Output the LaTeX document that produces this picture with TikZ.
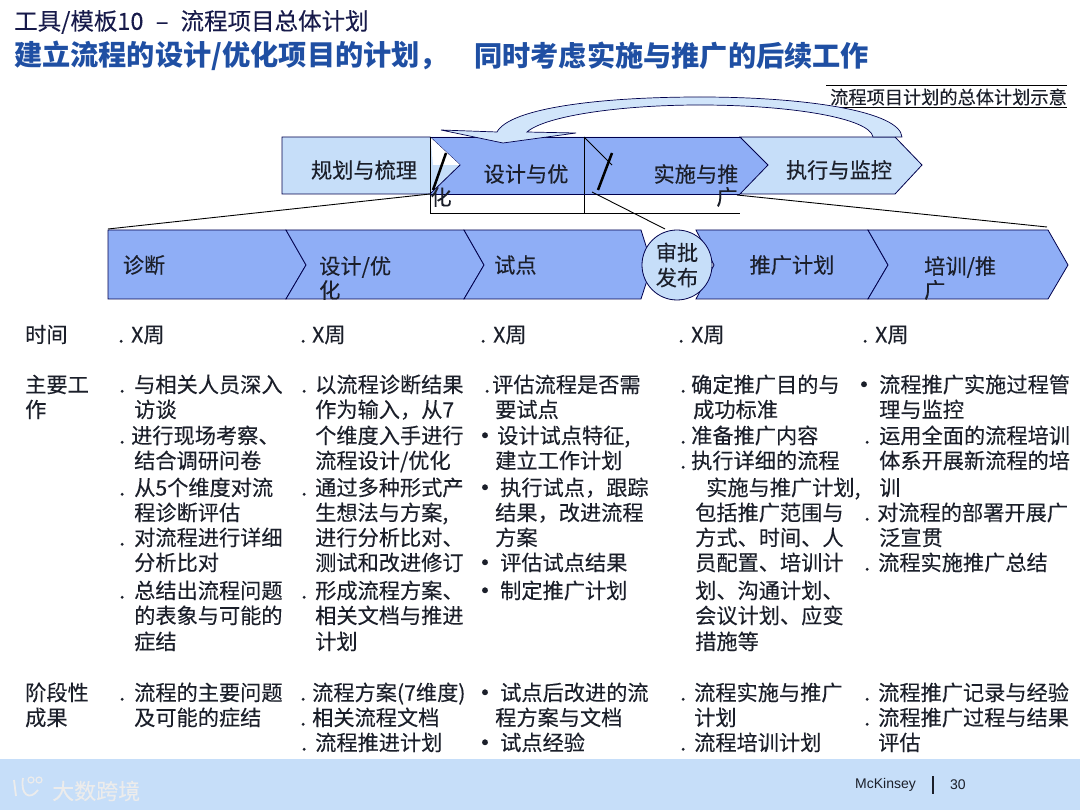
\documentclass[tikz,border=0pt]{standalone}
\usepackage{fontspec}
\setmainfont{Noto Sans CJK SC}
\newfontfamily\bodyfont{Noto Sans CJK SC}[FakeBold=0.2]
\newfontfamily\latinfont{Liberation Sans}
\usetikzlibrary{positioning,calc}
\definecolor{stepdark}{HTML}{8FAEF6}
\definecolor{steplight}{HTML}{C6DEF9}
\definecolor{titleblue}{HTML}{1F4FA3}
\definecolor{inkdark}{HTML}{1B1F2A}
\begin{document}
\begin{tikzpicture}[x=1pt,y=-1pt,
  bodytxt/.style={anchor=west,inner sep=0pt,text=inkdark,font=\bodyfont\fontsize{21.2}{21.2}\selectfont,text height=20pt,text depth=3pt},
  bulmark/.style={inner sep=0pt,text=inkdark,font=\bodyfont\fontsize{27}{27}\selectfont},
  steptxt/.style={inner sep=0pt,text=inkdark,font=\bodyfont\fontsize{21.2}{21.2}\selectfont},
  chev/.style={draw=black!70!blue,line width=0.8pt,fill=stepdark},
  thinline/.style={black,line width=0.9pt}]
  \useasboundingbox (0,0) rectangle (1080,810);
  % title lines
  \node[anchor=west,inner sep=0pt,text=inkdark!85!blue,font=\bodyfont\fontsize{23.5}{23.5}\selectfont] (title) at (14,22) {工具/模板10\hspace{7pt} – \hspace{7pt}流程项目总体计划};
  \node[anchor=west,inner sep=0pt,text=titleblue,font=\fontsize{28.2}{28.2}\selectfont\bfseries] (subtitle) at (14,56) {建立流程的设计/优化项目的计划，};
  \node[anchor=west,inner sep=0pt,text=titleblue,font=\fontsize{28.2}{28.2}\selectfont\bfseries] (subtitleb) at (474,56) {同时考虑实施与推广的后续工作};
  \node[anchor=west,inner sep=0pt,text=inkdark,font=\bodyfont\fontsize{18.2}{18.2}\selectfont] (caption) at (830,97) {流程项目计划的总体计划示意};
  \coordinate (capa) at (826,85); \coordinate (capb) at (1067,85);
  \coordinate (capc) at (830,107); \coordinate (capd) at (1067,107);
  \draw[thinline] (capa) -- (capb);
  \draw[thinline] (capc) -- (capd);
  % upper phase chevrons
  \draw[thinline,fill=white] (430,137) rectangle (584,213);
  \coordinate (outb) at (584,213); \coordinate (oute) at (740,213);
  \draw[thinline] (outb) -- (oute);
  \fill[stepdark] (430,137) -- (584,137) -- (612,137) -- (740,137) -- (768,165) -- (740,194) -- (430,194) -- cycle;
  \draw[chev,fill=steplight] (282,137) -- (430,137) -- (460,165) -- (430,194) -- (282,194) -- cycle;
  \fill[white] (430.5,137.5) -- (460,165) -- (433,165) -- cycle;
  \draw[chev,fill=none] (430,137) -- (740,137);
  \draw[chev,fill=none] (430,194) -- (740,194);
  \draw[thinline] (430,137) -- (430,194);
  \draw[thinline] (584,137) -- (584,194);
  \draw[thinline] (584,137) -- (612,165);
  \draw[chev,fill=steplight] (740,137) -- (895,137) -- (922,165) -- (895,194) -- (740,194) -- (768,165) -- cycle;
  \draw[black,line width=2.5pt] (446,153) -- (433,190);
  \draw[black,line width=2.5pt] (612,153) -- (598,190);
  % return arrow
  \draw[black!70!blue,line width=0.7pt,fill=steplight!80!white]
    (902,137) .. controls (900,112) and (810,97) .. (700,97)
    .. controls (600,97) and (510,108) .. (497,132) -- (441,130) -- (503,143) -- (576,133) -- (527,132)
    .. controls (545,116) and (620,105) .. (700,105)
    .. controls (790,105) and (870,118) .. (873,137) -- cycle;
  \node[steptxt] (plan) at (364,170) {规划与梳理};
  \node[steptxt] (design) at (526,174) {设计与优};
  \node[steptxt] (designb) at (441,197) {化};
  \node[steptxt] (rollout) at (696,174) {实施与推};
  \node[steptxt] (rolloutb) at (727,197) {广};
  \node[steptxt] (monitor) at (839,170) {执行与监控};
  % lower stage chevrons
  \draw[chev] (108,230) -- (286,230) -- (306,265) -- (286,299) -- (108,299) -- cycle;
  \foreach \xa/\xn/\xb/\xt in {286/306/464/484,464/484/641/652,696/714/868/888,868/888/1048/1068}
    \draw[chev] (\xa,230) -- (\xb,230) -- (\xt,265) -- (\xb,299) -- (\xa,299) -- (\xn,265) -- cycle;
  \draw[chev,fill=steplight] (677,265) ellipse (35 and 35);
  \node[steptxt] (diag) at (144,265) {诊断};
  \node[steptxt,anchor=west] (opt) at (319,267) {设计/优};
  \node[steptxt,anchor=west] (optb) at (319,290) {化};
  \node[steptxt,anchor=west] (pilot) at (494,265) {试点};
  \node[steptxt,align=center,font=\bodyfont\fontsize{21.2}{25}\selectfont] (gate) at (677,265) {审批\\发布};
  \node[steptxt] (rplan) at (792,265) {推广计划};
  \node[steptxt,anchor=west] (train) at (924,267) {培训/推};
  \node[steptxt,anchor=west] (trainb) at (924,290) {广};
  % zoom lines between the rows
  \coordinate (zla) at (430,194); \coordinate (zlb) at (108,229);
  \coordinate (zma) at (592,192); \coordinate (zmb) at (665,229);
  \coordinate (zra) at (737,195); \coordinate (zrb) at (1047,227);
  \draw[thinline] (zla) -- (zlb);
  \draw[thinline] (zma) -- (zmb);
  \draw[thinline] (zra) -- (zrb);
  % row heads
  \foreach \x/\y/\t [count=\n] in {25/334/时间,25/384/主要工,25/409/作,25/692/阶段性,25/717/成果}
    \node[bodytxt] (head\n) at (\x,\y) {\t};
  % time row
  \foreach \x/\d [count=\n] in {131/118,312/300,493/480,691/678,875/862} {
    \node[bodytxt] (time\n) at (\x,334) {X周};
    \node[bodytxt] (timedot\n) at (\d,334) {.};
  }
  % main work text
  \foreach \x/\y/\t [count=\n] in {
    134/384/与相关人员深入,134/409/访谈,131/435/进行现场考察、,134/460/结合调研问卷,
    134/487/从5个维度对流,134/512/程诊断评估,134/537/对流程进行详细,134/562/分析比对,
    134/590/总结出流程问题,134/615/的表象与可能的,134/641/症结,
    315/384/以流程诊断结果,315/409/作为输入，从7,315/435/个维度入手进行,315/460/{流程设计/优化},
    315/487/通过多种形式产,315/512/{生想法与方案,},315/537/进行分析比对、,315/562/测试和改进修订,
    315/590/形成流程方案、,315/615/相关文档与推进,315/641/计划,
    492/384/评估流程是否需,495/409/要试点,497/435/{设计试点特征,},495/460/建立工作计划,
    500/487/执行试点，跟踪,495/512/结果，改进流程,495/537/方案,500/562/评估试点结果,500/590/制定推广计划,
    691/384/确定推广目的与,693/409/成功标准,691/435/准备推广内容,691/460/执行详细的流程,
    706/487/{实施与推广计划,},695/512/包括推广范围与,695/537/方式、时间、人,695/562/员配置、培训计,
    695/590/划、沟通计划、,695/615/会议计划、应变,695/641/措施等,
    879/384/流程推广实施过程管,879/409/理与监控,879/435/运用全面的流程培训,879/460/体系开展新流程的培,
    879/487/训,877/512/对流程的部署开展广,879/537/泛宣贯,878/562/流程实施推广总结}
    \node[bodytxt] (work\n) at (\x,\y) {\t};
  % result text
  \foreach \x/\y/\t [count=\n] in {
    134/692/流程的主要问题,134/717/及可能的症结,
    312/692/流程方案(7维度),312/717/相关流程文档,315/742/流程推进计划,
    500/692/试点后改进的流,495/717/程方案与文档,500/742/试点经验,
    694/692/流程实施与推广,694/717/计划,694/742/流程培训计划,
    878/692/流程推广记录与经验,878/717/流程推广过程与结果,878/742/评估}
    \node[bodytxt] (res\n) at (\x,\y) {\t};
  % list marks
  \foreach \x/\y [count=\n] in {
    119/384,119/435,119/487,119/537,119/590,119/692,
    301/384,301/487,301/590,300/692,300/717,301/742,
    484/384,680/384,680/435,680/460,864/435,864/512,864/562,
    680/692,680/742,864/692,864/717}
    \node[bodytxt] (dot\n) at (\x,\y) {.};
  \foreach \x/\y [count=\n] in {485/439,485/491,485/566,485/594,485/696,485/746,864/388}
    \node[bulmark] (bul\n) at (\x,\y) {•};
  % footer band
  \fill[steplight] (0,759) rectangle (1080,810);
  \node[anchor=west,inner sep=0pt,font=\latinfont\fontsize{14}{14}\selectfont,text=inkdark] (firm) at (855,785) {McKinsey};
  \node[anchor=west,inner sep=0pt,font=\latinfont\fontsize{14}{14}\selectfont,text=inkdark] (page) at (950,785) {30};
  \coordinate (bara) at (933,776); \coordinate (barb) at (933,794);
  \draw[inkdark,line width=1.2pt] (bara) -- (barb);
  % watermark
  \draw[white!85!gray,line width=1.8pt] (14,780) -- (16,796);
  \draw[white!85!gray,line width=1.8pt] (23,778) .. controls (20,795) and (30,801) .. (38,790);
  \draw[white!85!gray,line width=1.2pt] (31,780) circle (3) (39,780) circle (3);
  \node[anchor=west,inner sep=0pt,text=white!85!gray,font=\bodyfont\fontsize{22}{22}\selectfont] (mark) at (52,791) {大数跨境};
\end{tikzpicture}
\end{document}
